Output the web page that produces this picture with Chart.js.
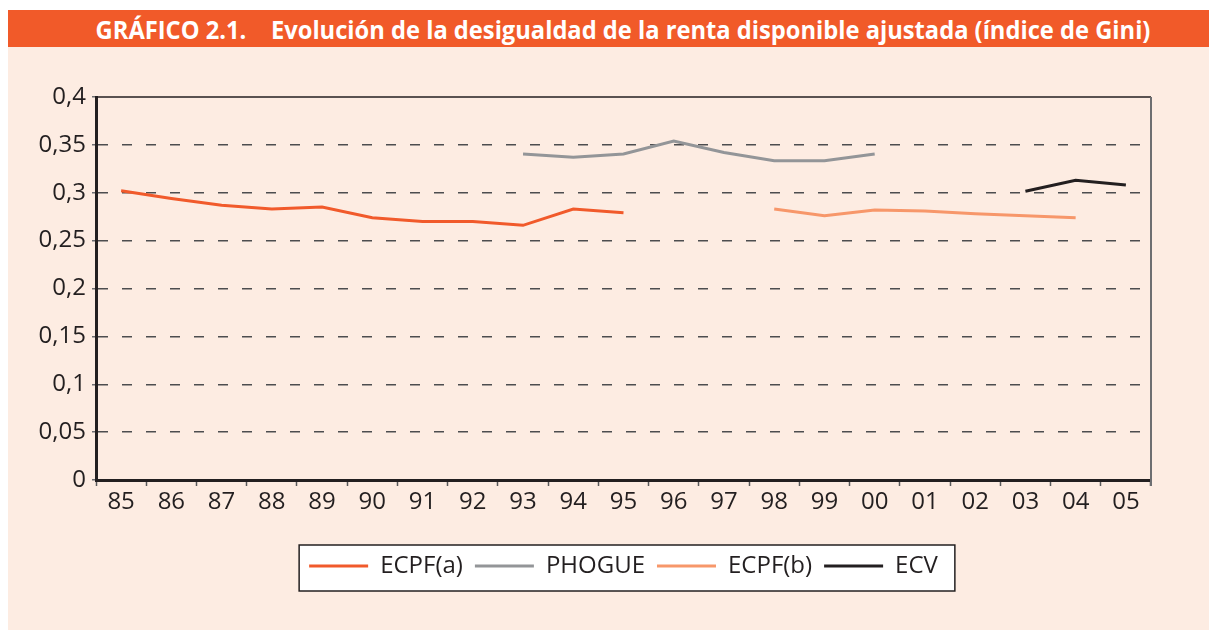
<!DOCTYPE html>
<html>
<head>
<meta charset="utf-8">
<script src="https://cdn.jsdelivr.net/npm/chart.js@4"></script>
<style>
  body { margin: 0; background: #fff; width: 1209px; height: 630px; overflow: hidden; position: relative; }
  #head { position: absolute; left: 8px; top: 10px; width: 1201px; height: 37px; background: #f15a29; overflow: hidden; }
  #head span { position: absolute; left: 615px; top: 50%; white-space: pre; color: #fff; font: bold 25px "Open Sans", sans-serif; transform-origin: center center; }
  #panel { position: absolute; left: 8px; top: 47px; width: 1201px; height: 583px; background: #fdece2; }
</style>
</head>
<body>
<div id="head"><span id="title">GRÁFICO 2.1.    Evolución de la desigualdad de la renta disponible ajustada (índice de Gini)</span></div>
<div id="panel"><canvas id="myChart" width="1201" height="583"></canvas></div>
<script>
const years = ['85', '86', '87', '88', '89', '90', '91', '92', '93', '94', '95', '96', '97', '98', '99', '00', '01', '02', '03', '04', '05'];
const ecpfA = [0.302, 0.294, 0.287, 0.283, 0.285, 0.274, 0.270, 0.270, 0.266, 0.283, 0.279, null, null, null, null, null, null, null, null, null, null];
const phogue = [null, null, null, null, null, null, null, null, 0.3405, 0.337, 0.3405, 0.354, 0.342, 0.3335, 0.3335, 0.3405, null, null, null, null, null];
const ecpfB = [null, null, null, null, null, null, null, null, null, null, null, null, null, 0.283, 0.276, 0.282, 0.281, 0.278, 0.276, 0.274, null];
const ecv = [null, null, null, null, null, null, null, null, null, null, null, null, null, null, null, null, null, null, 0.3015, 0.313, 0.308];

// fit the title inside the header bar
const t = document.getElementById('title');
const sx = 1055 / t.offsetWidth;
t.style.transform = 'translate(-50%, -50%) scaleX(' + sx + ')';

const font = { family: '"Open Sans", sans-serif', size: 24 };

const frame = {
    id: 'frame',
    beforeDatasetsDraw(chart) {
        const { ctx, chartArea: a } = chart;
        ctx.save();
        ctx.strokeStyle = '#231f20';
        ctx.lineWidth = 1.5;
        ctx.beginPath();
        ctx.moveTo(a.left, a.top);
        ctx.lineTo(a.right, a.top);
        ctx.stroke();
        ctx.strokeStyle = '#6d6e71';
        ctx.lineWidth = 2;
        ctx.beginPath();
        ctx.moveTo(a.right, a.top);
        ctx.lineTo(a.right, a.bottom + 6);
        ctx.stroke();
        ctx.restore();
    },
    beforeDraw(chart) {
        const lg = chart.legend;
        if (!lg || !lg.legendHitBoxes.length) return;
        const hb = lg.legendHitBoxes;
        const first = hb[0], last = hb[hb.length - 1];
        const cy = first.top + first.height / 2;
        const x0 = first.left - 10, x1 = last.left + last.width + 17;
        const ctx = chart.ctx;
        ctx.save();
        ctx.fillStyle = '#fff';
        ctx.strokeStyle = '#231f20';
        ctx.lineWidth = 1.5;
        ctx.fillRect(x0, cy - 21, x1 - x0, 46);
        ctx.strokeRect(x0, cy - 21, x1 - x0, 46);
        ctx.restore();
    }
};

new Chart(document.getElementById('myChart'), {
    type: 'line',
    data: {
        labels: years,
        datasets: [
            { label: 'ECPF(a)', data: ecpfA, borderColor: '#f15a2b', backgroundColor: '#f15a2b', borderWidth: 3 },
            { label: 'PHOGUE', data: phogue, borderColor: '#939598', backgroundColor: '#939598', borderWidth: 3 },
            { label: 'ECPF(b)', data: ecpfB, borderColor: '#f7976a', backgroundColor: '#f7976a', borderWidth: 3 },
            { label: 'ECV', data: ecv, borderColor: '#231f20', backgroundColor: '#231f20', borderWidth: 3 }
        ]
    },
    options: {
        responsive: false,
        devicePixelRatio: 1,
        animation: false,
        spanGaps: false,
        elements: { point: { radius: 0 }, line: { tension: 0 } },
        layout: { padding: { top: 50, right: 58, bottom: 42, left: 0 } },
        plugins: {
            tooltip: { enabled: false },
            legend: {
                position: 'bottom',
                fullSize: false,
                labels: {
                    usePointStyle: true,
                    pointStyle: 'line',
                    pointStyleWidth: 59,
                    padding: 12,
                    color: '#231f20',
                    font: font
                }
            }
        },
        scales: {
            x: {
                offset: true,
                grid: { offset: true, drawOnChartArea: false, tickLength: 6, tickColor: '#58595b', tickWidth: 1.5 },
                border: { color: '#231f20', width: 3 },
                ticks: { color: '#231f20', font: font, padding: 2, maxRotation: 0, autoSkip: false },
                afterFit(s) { s.height = 62; }
            },
            y: {
                min: 0,
                max: 0.4,
                ticks: {
                    stepSize: 0.05,
                    color: '#231f20',
                    font: font,
                    padding: 6,
                    callback: v => String(Math.round(v * 100) / 100).replace('.', ',')
                },
                grid: {
                    color: c => (c.index === 0 || c.index === 8) ? 'rgba(0,0,0,0)' : '#4d4d4f',
                    lineWidth: 1.5,
                    tickLength: 4,
                    tickColor: '#6d6e71'
                },
                border: { color: '#231f20', width: 3, dash: [10, 14] },
                afterFit(s) { s.width = 88; }
            }
        }
    },
    plugins: [frame]
});
</script>
</body>
</html>
